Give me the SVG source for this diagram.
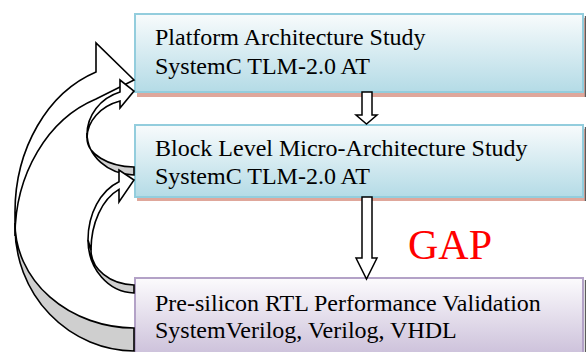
<svg xmlns="http://www.w3.org/2000/svg" width="586" height="352" viewBox="0 0 586 352">
<defs>
<linearGradient id="gBlue" x1="0" y1="0" x2="0" y2="1">
<stop offset="0" stop-color="#f8fbfc"/>
<stop offset="1" stop-color="#b4dbe6"/>
</linearGradient>
<linearGradient id="gPurple" x1="0" y1="0" x2="0" y2="1">
<stop offset="0" stop-color="#fcfbfd"/>
<stop offset="1" stop-color="#c9bdd8"/>
</linearGradient>
<style>
.blue{fill:url(#gBlue);stroke:#93cddd;stroke-width:2}
.purple{fill:url(#gPurple);stroke:#b3a2c7;stroke-width:2}
.shadow{fill:#dfa79b}
.edge{stroke:#5c5c5c;stroke-width:1.2}
.lbl{font-family:"Liberation Serif","Times New Roman",serif;font-size:24px;fill:#000}
.gap{font-family:"Liberation Serif","Times New Roman",serif;font-size:42px;fill:#ff0000}
.face{fill:#ffffff;stroke:#000;stroke-width:1.6;stroke-linejoin:miter}
.back{fill:#cfcfcf;stroke:#000;stroke-width:1.6;stroke-linejoin:miter}
.down{fill:#ffffff;stroke:#000;stroke-width:1.5}
</style>
</defs>
<rect width="586" height="352" fill="#ffffff"/>

<g id="node-platform">
<rect class="shadow" x="137" y="18" width="448" height="79"/>
<line class="edge" x1="585.4" y1="16" x2="585.4" y2="97"/>
<rect class="blue" x="135" y="14" width="448" height="78"/>
<text class="lbl" x="155" y="45">Platform Architecture Study</text>
<text class="lbl" x="155" y="74">SystemC TLM-2.0 AT</text>
</g>

<g id="node-block">
<rect class="shadow" x="137" y="129" width="448" height="72"/>
<line class="edge" x1="585.4" y1="127" x2="585.4" y2="201"/>
<rect class="blue" x="135" y="125" width="448" height="72"/>
<text class="lbl" x="155" y="156">Block Level Micro-Architecture Study</text>
<text class="lbl" x="155" y="184">SystemC TLM-2.0 AT</text>
</g>

<g id="node-rtl">
<line class="edge" x1="585.4" y1="280" x2="585.4" y2="352"/>
<rect class="purple" x="135" y="278" width="448" height="82"/>
<text class="lbl" x="155" y="311">Pre-silicon RTL Performance Validation</text>
<text class="lbl" x="155" y="338">SystemVerilog, Verilog, VHDL</text>
</g>

<text id="gap-label" class="gap" x="408" y="259">GAP</text>

<g id="connectors">
<g id="loop-rtl-to-platform">
<path class="back" d="M15,227 A120 124 0 0 0 134,351 L134,328 A120 105 0 0 1 15,223 Z"/>
<path class="face" d="M96,72 L96,43 L134,80 L96,99 A120 145 0 0 0 15,236 L15,212 A120 148 0 0 1 96,72 Z"/>
</g>
<g id="loop-block-to-platform">
<path class="back" d="M87,133 A48 42 0 0 0 134,175 L134,167 A48 29 0 0 1 87,138 Z"/>
<path class="face" d="M120,92 L120,80 L134,91 L120,108 L120,101 A48 39 0 0 0 87,138 L87,135 A48 45 0 0 1 120,92 Z"/>
</g>
<g id="loop-rtl-to-block">
<path class="back" d="M88,240 A47 53 0 0 0 134,293 L134,285 A44 35 0 0 1 91,250 Z"/>
<path class="face" d="M119,181.7 L119,170 L134,180 L119,202 L119,189.4 A44 65 0 0 0 91,250 L88,240 A47 62 0 0 1 119,181.7 Z"/>
</g>
<path id="arrow-platform-block" class="down" d="M362,92 L372,92 L372,115 L377,115 L366.5,124 L356,115 L362,115 Z"/>
<path id="arrow-block-rtl" class="down" d="M362,197 L372,197 L372,258 L377,258 L366.5,279 L356,258 L362,258 Z"/>
</g>
</svg>
